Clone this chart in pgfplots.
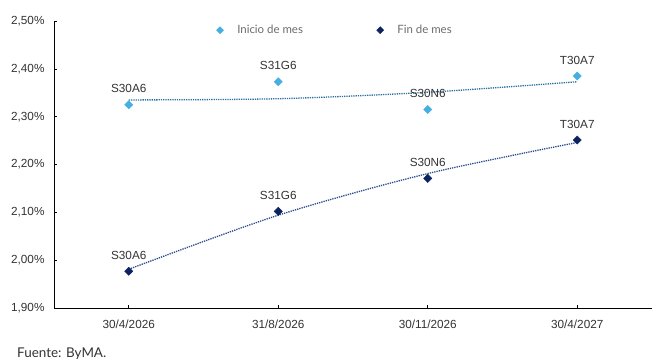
\documentclass[border=0pt]{standalone}
\usepackage{pgfplots}
\pgfplotsset{compat=1.18}
\usepackage{fontspec}
\setmainfont{Liberation Sans}
\newfontfamily\latofont{Lato}
\definecolor{inicio}{HTML}{45AEE3}
\definecolor{iniciotr}{HTML}{2A6F9E}
\definecolor{fin}{HTML}{0D2260}
\definecolor{fintr}{HTML}{2B4A8C}
\definecolor{txt}{HTML}{333333}
\begin{document}
\begin{tikzpicture}
\path[use as bounding box] (-54bp,-51bp) rectangle (598bp,308bp);
\begin{axis}[
  at={(0,0)}, anchor=south west,
  scale only axis, width=598bp, height=287bp,
  xmin=-0.5, xmax=3.5, ymin=1.9, ymax=2.5,
  axis x line*=bottom, axis y line*=left,
  axis line style={black, line width=0.9pt},
  xtick={0,1,2,3},
  xticklabels={30/4/2026,31/8/2026,30/11/2026,30/4/2027},
  ytick={1.9,2.0,2.1,2.2,2.3,2.4,2.5},
  yticklabels={{1,90\%},{2,00\%},{2,10\%},{2,20\%},{2,30\%},{2,40\%},{2,50\%}},
  tick style={black, line width=0.6pt},
  major tick length=3bp,
  tick align=inside,
  ticklabel style={font=\fontsize{11.8}{13}\selectfont, text=txt},
  xticklabel style={yshift=-8bp},
  yticklabel style={xshift=-6bp},
  legend columns=2,
  legend style={at={(0.262,1.0)}, anchor=north west, draw=none, fill=none,
    font=\latofont\fontsize{11.5}{13}\selectfont, text=gray!85!black,
    /tikz/every even column/.append style={column sep=69bp}},
  legend image code/.code={\path (0bp,0bp) (21bp,0bp);\draw[#1,mark size=2.5bp] plot coordinates {(6bp,0bp)};},
  nodes near coords, point meta=explicit symbolic,
  every node near coord/.append style={anchor=base, yshift=12bp, inner sep=0pt,
    font=\fontsize{11.8}{13}\selectfont, text=txt},
]
\addplot[only marks, mark=square*, mark options={rotate=45}, mark size=2.9bp, color=inicio]
  table[meta=lab] {
x y lab
0 2.325 S30A6
1 2.373 S31G6
2 2.315 S30N6
3 2.385 T30A7
};
\addlegendentry{Inicio de mes}
\addplot[only marks, mark=square*, mark options={rotate=45}, mark size=2.9bp, color=fin]
  table[meta=lab] {
x y lab
0 1.977 S30A6
1 2.102 S31G6
2 2.171 S30N6
3 2.251 T30A7
};
\addlegendentry{Fin de mes}
\addplot[no marks, nodes near coords={}, densely dotted, line width=1.3pt, color=iniciotr, forget plot, smooth]
  coordinates {(0,2.335) (1,2.3375) (2,2.351) (3,2.373)};
\addplot[no marks, nodes near coords={}, densely dotted, line width=1.3pt, color=fintr, forget plot, smooth]
  coordinates {(0,1.981) (1,2.094) (2,2.181) (3,2.246)};
\end{axis}
\node[anchor=base west, inner sep=0pt, font=\latofont\fontsize{13.5}{15}\selectfont, text=txt] at (-37bp,-49bp) {Fuente: ByMA.};
\end{tikzpicture}
\end{document}
